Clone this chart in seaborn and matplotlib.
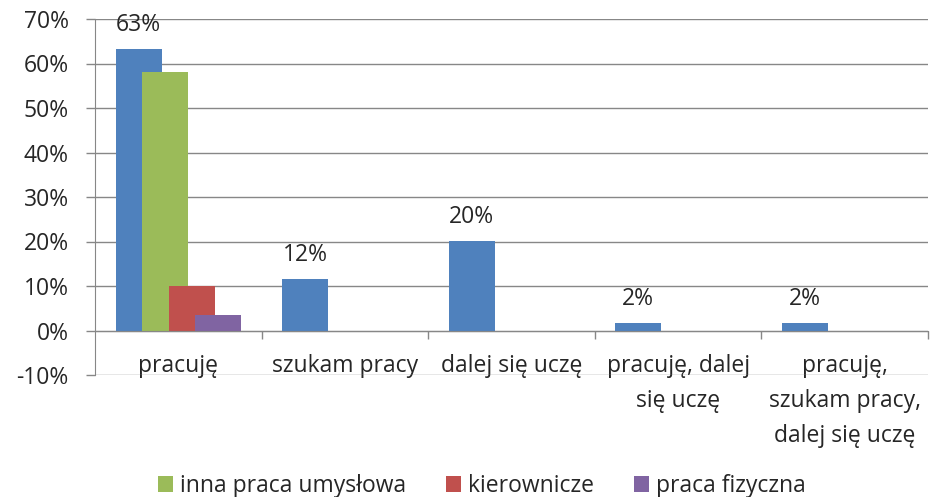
import pandas as pd
import numpy as np
import matplotlib
matplotlib.use('Agg')
import matplotlib.pyplot as plt
from matplotlib.patches import Patch
from matplotlib.ticker import FixedLocator
import seaborn as sns

# ── DATA ──────────────────────────────────────
categories = ['pracuję', 'szukam pracy', 'dalej się uczę',
              'pracuję, dalej\nsię uczę',
              'pracuję,\nszukam pracy,\ndalej się uczę']
series_names = ['ogółem', 'inna praca umysłowa', 'kierownicze', 'praca fizyczna']
total_vals = [63.2, 11.6, 20.1, 1.6, 1.6]
umyslowa_vals = [58.2]
kierownicze_vals = [10.0]
fizyczna_vals = [3.4]
y_ticks = [-10, 0, 10, 20, 30, 40, 50, 60, 70]
colors = ['#4F81BD', '#9BBB59', '#C0504D', '#8064A2']

rows = []
for name, vals in zip(series_names, [total_vals, umyslowa_vals, kierownicze_vals, fizyczna_vals]):
    for cat, v in zip(categories, vals):
        rows.append({'kat': cat, 'seria': name, 'val': v})
df = pd.DataFrame(rows)

# ── PLOT ──────────────────────────────────────
sns.set_style('white')
plt.rcParams['font.family'] = ['Open Sans', 'DejaVu Sans']
FS = 16.5

fig, ax = plt.subplots(figsize=(9.37, 4.97), dpi=100)
fig.subplots_adjust(left=95/937, right=928/937, bottom=1-375/497, top=1-19/497)

sns.barplot(data=df, x='kat', y='val', hue='seria', order=categories,
            hue_order=series_names, palette=dict(zip(series_names, colors)),
            dodge=True, width=0.636, errorbar=None, saturation=1,
            legend=False, ax=ax)

# widen bars so they overlap like the original
bar_w = 0.276
for p in ax.patches:
    cx = p.get_x() + p.get_width() / 2
    p.set_width(bar_w)
    p.set_x(cx - bar_w / 2)
    p.set_linewidth(0)

# labels on the first series only
n_cat = len(categories)
for p in ax.patches[:n_cat]:
    h = p.get_height()
    if np.isnan(h):
        continue
    ax.annotate(f'{h:.0f}%', (p.get_x() + p.get_width() / 2, h),
                xytext=(0, 17.5), textcoords='offset points',
                ha='center', va='center', fontsize=FS)

grid_c = '#878787'
ax.set_ylim(-10, 70)
ax.set_xlim(-0.5, n_cat - 0.5)
ax.set_yticks(y_ticks)
ax.set_yticklabels([f'{t}%' for t in y_ticks], fontsize=FS)
ax.yaxis.grid(True, color=grid_c, linewidth=1)
ax.set_axisbelow(True)
ax.tick_params(axis='y', length=6.5, width=1, color=grid_c, pad=12.5, left=True)

ax.spines['bottom'].set_position(('data', 0))
ax.spines['bottom'].set_color(grid_c)
ax.spines['left'].set_color(grid_c)
ax.spines['top'].set_visible(False)
ax.spines['right'].set_visible(False)

ax.set_xticks(range(n_cat))
ax.set_xticklabels(categories, fontsize=FS, linespacing=1.6, ha='center')
ax.tick_params(axis='x', length=0, pad=17)
ax.xaxis.set_minor_locator(FixedLocator(np.arange(0.5, n_cat, 1.0)))
ax.tick_params(axis='x', which='minor', length=6, width=1, color=grid_c, bottom=True)
ax.set_xlabel('')
ax.set_ylabel('')

handles = [Patch(facecolor=c, edgecolor='none', label=n)
           for c, n in zip(colors[1:], series_names[1:])]
fig.legend(handles=handles, loc='center', bbox_to_anchor=(482/937, 1-486/497),
           ncol=3, frameon=False, fontsize=FS, handlelength=0.65, handleheight=0.65,
           handletextpad=0.3, columnspacing=1.75)

plt.savefig('out.png', dpi=100)
